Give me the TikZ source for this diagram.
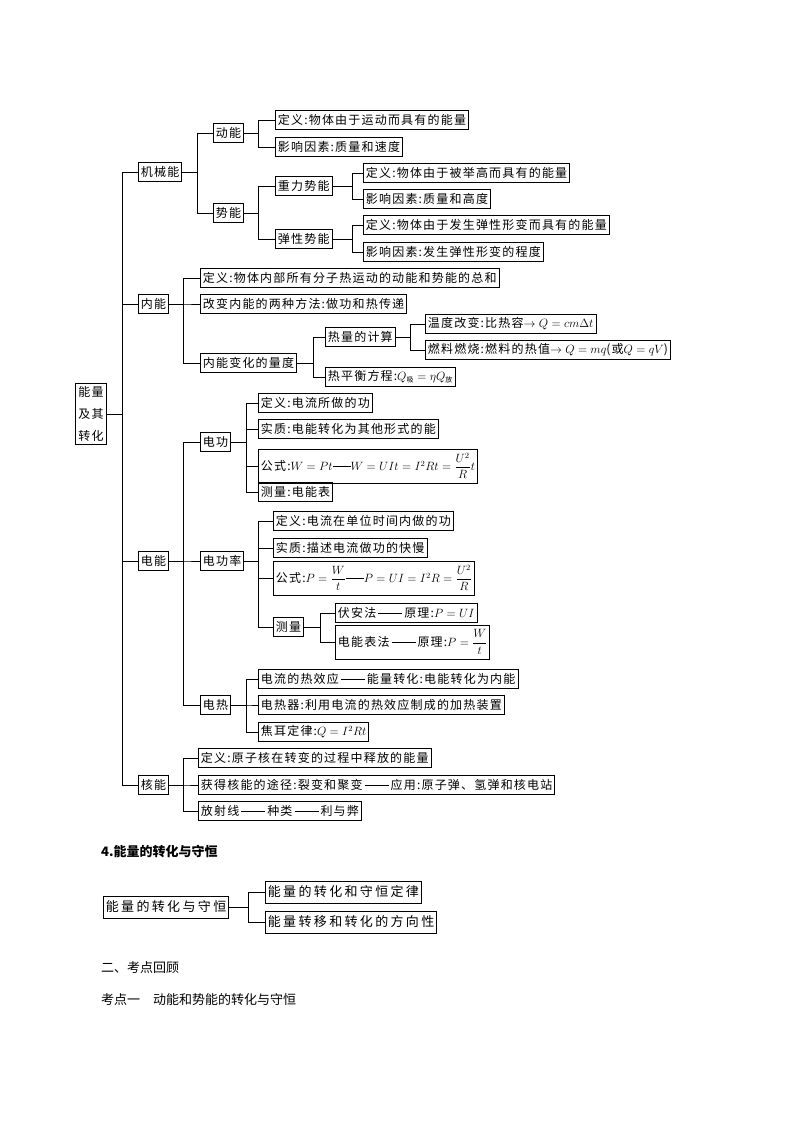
\documentclass[tikz,border=0pt]{standalone}
\usepackage{fontspec}
\setmainfont{Noto Sans CJK SC}
\newfontfamily\myspA[LetterSpace=10]{Noto Sans CJK SC}
\newfontfamily\myspB[LetterSpace=18]{Noto Sans CJK SC}
\usepackage{amsmath}
\begin{document}
\begin{tikzpicture}[x=1pt,y=-1pt,
  bx/.style={draw,thick,anchor=west,inner sep=2.5pt,minimum height=19pt,font=\fontsize{12}{14}\myspA},
  ln/.style={thin}]
\useasboundingbox (0,0) rectangle (794,1123);
\newcommand{\br}[3]{\foreach \c in {#3}{\draw[ln] (#1.east) -- (#1.east -| #2,0) |- (\c.west);}}
\newcommand{\dsh}{\rule[0.6ex]{2em}{0.4pt}}
% root
\node[bx,align=center,inner sep=3pt,font=\fontsize{12}{22}\myspA] (root) at (75,414) {能量\\及其\\转化};
\node[bx] (jx) at (138,172) {机械能};
\node[bx] (nn) at (138,304) {内能};
\node[bx] (dn) at (138,561) {电能};
\node[bx] (hn) at (138,785) {核能};
\br{root}{122}{jx,nn,dn,hn}
% mechanical
\node[bx] (dk) at (213,133) {动能};
\node[bx] (sk) at (213,213) {势能};
\br{jx}{197}{dk,sk}
\node[bx] (dk1) at (275,120) {定义:物体由于运动而具有的能量};
\node[bx] (dk2) at (275,147) {影响因素:质量和速度};
\br{dk}{258}{dk1,dk2}
\node[bx] (zl) at (275,186) {重力势能};
\node[bx] (tx) at (275,239) {弹性势能};
\br{sk}{258}{zl,tx}
\node[bx] (zl1) at (363,173) {定义:物体由于被举高而具有的能量};
\node[bx] (zl2) at (363,199) {影响因素:质量和高度};
\br{zl}{352}{zl1,zl2}
\node[bx] (tx1) at (363,225) {定义:物体由于发生弹性形变而具有的能量};
\node[bx] (tx2) at (363,252) {影响因素:发生弹性形变的程度};
\br{tx}{352}{tx1,tx2}
% internal
\node[bx] (nn1) at (200,278) {定义:物体内部所有分子热运动的动能和势能的总和};
\node[bx] (nn2) at (200,304) {改变内能的两种方法:做功和热传递};
\node[bx] (nn3) at (200,363) {内能变化的量度};
\br{nn}{183}{nn1,nn2,nn3}
\node[bx] (rl) at (325,337) {热量的计算};
\node[bx] (rp) at (325,377) {热平衡方程:$Q_{\text{\scriptsize 吸}}=\eta Q_{\text{\scriptsize 放}}$};
\br{nn3}{313}{rl,rp}
\node[bx] (rl1) at (425,324) {温度改变:比热容$\rightarrow Q=cm\Delta t$};
\node[bx] (rl2) at (425,350) {燃料燃烧:燃料的热值$\rightarrow Q=mq$(或$Q=qV$)};
\br{rl}{410}{rl1,rl2}
% electric
\node[bx] (dg) at (200,442) {电功};
\node[bx] (dgl) at (200,561) {电功率};
\node[bx] (dr) at (200,705) {电热};
\br{dn}{183}{dg,dgl,dr}
\node[bx] (dg1) at (258,403) {定义:电流所做的功};
\node[bx] (dg2) at (258,429) {实质:电能转化为其他形式的能};
\node[bx,minimum height=34pt] (dg3) at (258,466) {公式:$W=Pt$\rule[0.6ex]{1.5em}{0.4pt}$W=UIt=I^2Rt=\dfrac{U^2}{R}t$};
\node[bx] (dg4) at (258,492) {测量:电能表};
\br{dg}{246}{dg1,dg2,dg3,dg4}
\node[bx] (gl1) at (273,521) {定义:电流在单位时间内做的功};
\node[bx] (gl2) at (273,548) {实质:描述电流做功的快慢};
\node[bx,minimum height=34pt] (gl3) at (273,578) {公式:$P=\dfrac{W}{t}$\rule[0.6ex]{1.5em}{0.4pt}$P=UI=I^2R=\dfrac{U^2}{R}$};
\node[bx] (gl4) at (273,627) {测量};
\br{dgl}{258}{gl1,gl2,gl3,gl4}
\node[bx] (cl1) at (335,613) {伏安法\,\dsh\,原理:$P=UI$};
\node[bx,minimum height=34pt] (cl2) at (335,642) {电能表法\,\dsh\,原理:$P=\dfrac{W}{t}$};
\br{gl4}{320}{cl1,cl2}
\node[bx] (dr1) at (258,679) {电流的热效应\,\dsh\,能量转化:电能转化为内能};
\node[bx] (dr2) at (258,705) {电热器:利用电流的热效应制成的加热装置};
\node[bx] (dr3) at (258,732) {焦耳定律:$Q=I^2Rt$};
\br{dr}{246}{dr1,dr2,dr3}
% nuclear
\node[bx] (hn1) at (198,758) {定义:原子核在转变的过程中释放的能量};
\node[bx] (hn2) at (198,785) {获得核能的途径:裂变和聚变\,\dsh\,应用:原子弹、氢弹和核电站};
\node[bx] (hn3) at (198,811) {放射线\,\dsh\,种类\,\dsh\,利与弊};
\br{hn}{183}{hn1,hn2,hn3}
% section 4
\node[anchor=west,inner sep=0,font=\fontsize{13}{15}\selectfont\bfseries] (h4) at (101,852) {4.能量的转化与守恒};
\node[bx,minimum height=22pt,font=\fontsize{13}{15}\myspB] (sh) at (103,907) {能量的转化与守恒};
\node[bx,minimum height=22pt,font=\fontsize{13}{15}\myspB] (sh1) at (265,892) {能量的转化和守恒定律};
\node[bx,minimum height=22pt,font=\fontsize{13}{15}\myspB] (sh2) at (265,922) {能量转移和转化的方向性};
\br{sh}{248}{sh1,sh2}
\node[anchor=west,inner sep=0,font=\fontsize{13}{15}\selectfont] (t1) at (101,968) {二、考点回顾};
\node[anchor=west,inner sep=0,font=\fontsize{13}{15}\selectfont] (t2) at (101,1000) {考点一\quad 动能和势能的转化与守恒};
\end{tikzpicture}
\end{document}
